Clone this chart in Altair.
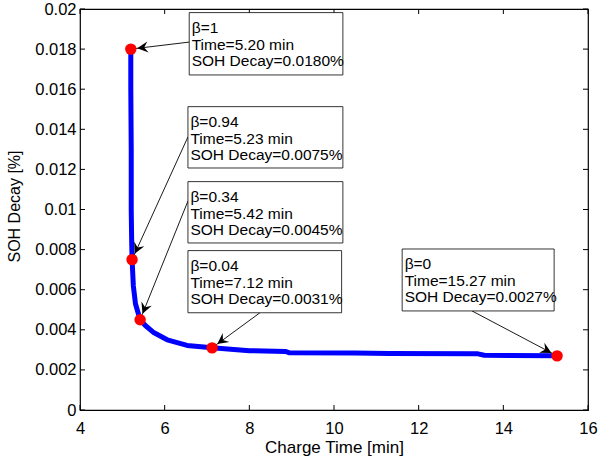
import math
import altair as alt
import pandas as pd

# Pareto curve: SOH decay against charge time
curve_time = [5.20, 5.20, 5.21, 5.21, 5.22, 5.23, 5.26, 5.31, 5.42, 5.55, 5.75, 6.06,
              6.53, 7.12, 8.00, 8.85, 8.95, 10.50, 11.30, 13.40, 13.55, 15.27]
curve_decay = [0.0180, 0.0160, 0.0130, 0.0100, 0.0085, 0.0075, 0.0062, 0.0053, 0.0045,
               0.00420, 0.00385, 0.00350, 0.00322, 0.0031, 0.00296, 0.00292, 0.00285,
               0.00284, 0.00282, 0.00280, 0.00273, 0.0027]

# highlighted operating points
beta = ["1", "0.94", "0.34", "0.04", "0"]
pt_time = [5.20, 5.23, 5.42, 7.12, 15.27]
pt_decay = [0.0180, 0.0075, 0.0045, 0.0031, 0.0027]

# annotation boxes and arrow tails, in data units
box_left = [6.58, 6.55, 6.55, 6.55, 11.61]
box_right = [10.21, 10.21, 10.21, 10.18, 15.20]
box_top = [0.01982, 0.01513, 0.01139, 0.00795, 0.00803]
box_bottom = [0.01671, 0.01207, 0.00833, 0.00485, 0.00494]
tail_time = [6.58, 6.55, 6.55, 8.25, 13.26]
tail_decay = [0.01835, 0.01362, 0.01042, 0.00485, 0.00494]

x_ticks = [4, 6, 8, 10, 12, 14, 16]
y_ticks = [0, 0.002, 0.004, 0.006, 0.008, 0.01, 0.012, 0.014, 0.016, 0.018, 0.02]

W, H = 508, 401
X_DOM, Y_DOM = [4, 16], [0, 0.02]
FONT = "Liberation Sans"


def to_px(t, d):
    return ((t - X_DOM[0]) / (X_DOM[1] - X_DOM[0]) * W,
            H - (d - Y_DOM[0]) / (Y_DOM[1] - Y_DOM[0]) * H)


angles = []
for tx, ty, hx, hy in zip(tail_time, tail_decay, pt_time, pt_decay):
    x0, y0 = to_px(tx, ty)
    x1, y1 = to_px(hx, hy)
    angles.append(math.degrees(math.atan2(y1 - y0, x1 - x0)) % 360)

curve_df = pd.DataFrame({"t": curve_time, "d": curve_decay, "i": range(len(curve_time))})
pts_df = pd.DataFrame({
    "t": pt_time, "d": pt_decay,
    "tt": tail_time, "td": tail_decay, "ang": angles,
    "bl": box_left, "br": box_right, "bt": box_top, "bb": box_bottom,
    "label": [f"β={b}\nTime={t:.2f} min\nSOH Decay={d:.4f}%"
              for b, t, d in zip(beta, pt_time, pt_decay)],
})
xt_df = pd.DataFrame({"v": x_ticks})
yt_df = pd.DataFrame({"v": y_ticks})

xs = alt.Scale(domain=X_DOM, nice=False, zero=False)
ys = alt.Scale(domain=Y_DOM, nice=False, zero=False)

x_axis = alt.Axis(values=x_ticks, format="d", title="Charge Time [min]", ticks=False,
                  grid=False, domain=False, labelFontSize=16.5, labelPadding=10,
                  labelFlush=False, labelColor="black", titleFontSize=17,
                  titlePadding=3, titleColor="black", titleFontWeight="normal")
y_axis = alt.Axis(values=y_ticks, format="~g", title="SOH Decay [%]", ticks=False,
                  grid=False, domain=False, labelFontSize=16.5, labelPadding=4,
                  labelFlush=False, labelColor="black", titleFontSize=16,
                  titleColor="black", titleFontWeight="normal",
                  titleX=-58, titleY=197)

line = alt.Chart(curve_df).mark_line(color="#0000ff", strokeWidth=5, strokeCap="round",
                                     strokeJoin="round").encode(
    x=alt.X("t:Q", scale=xs, axis=x_axis),
    y=alt.Y("d:Q", scale=ys, axis=y_axis),
    order="i:Q",
)

arrow_lines = alt.Chart(pts_df).mark_rule(color="black", strokeWidth=0.9).encode(
    x=alt.X("tt:Q", scale=xs), y=alt.Y("td:Q", scale=ys),
    x2="t:Q", y2="d:Q",
)

dots = alt.Chart(pts_df).mark_point(filled=True, color="#ff0000", size=130, opacity=1).encode(
    x=alt.X("t:Q", scale=xs), y=alt.Y("d:Q", scale=ys),
)

# concave arrowhead whose tip stops at the dot's rim
head_shape = "M-0.57,0 L-1.55,-0.5 L-1.2,0 L-1.55,0.5 Z"
heads = alt.Chart(pts_df).mark_point(filled=True, color="black", size=500, opacity=1,
                                     shape=head_shape).encode(
    x=alt.X("t:Q", scale=xs), y=alt.Y("d:Q", scale=ys),
    angle=alt.Angle("ang:Q", scale=None),
)

boxes = alt.Chart(pts_df).mark_rect(fill="white", stroke="black", strokeWidth=0.8).encode(
    x=alt.X("bl:Q", scale=xs), x2="br:Q",
    y=alt.Y("bt:Q", scale=ys), y2="bb:Q",
)

texts = alt.Chart(pts_df).mark_text(align="left", baseline="top", dx=2.5, dy=8.5,
                                    fontSize=15.5, lineHeight=16.5, lineBreak="\n",
                                    color="black", font=FONT).encode(
    x=alt.X("bl:Q", scale=xs), y=alt.Y("bt:Q", scale=ys),
    text="label:N",
)

# inward ticks on all four sides of the frame
TL = 5
tick_bottom = alt.Chart(xt_df).mark_rule(color="black", strokeWidth=1).encode(
    x=alt.X("v:Q", scale=xs), y=alt.value(H), y2=alt.value(H - TL))
tick_top = alt.Chart(xt_df).mark_rule(color="black", strokeWidth=1).encode(
    x=alt.X("v:Q", scale=xs), y=alt.value(0), y2=alt.value(TL))
tick_left = alt.Chart(yt_df).mark_rule(color="black", strokeWidth=1).encode(
    y=alt.Y("v:Q", scale=ys), x=alt.value(0), x2=alt.value(TL))
tick_right = alt.Chart(yt_df).mark_rule(color="black", strokeWidth=1).encode(
    y=alt.Y("v:Q", scale=ys), x=alt.value(W), x2=alt.value(W - TL))

chart = alt.layer(
    line, tick_bottom, tick_top, tick_left, tick_right,
    arrow_lines, dots, heads, boxes, texts,
).properties(
    width=W, height=H,
    autosize=alt.AutoSizeParams(type="none"),
    padding={"left": 80, "top": 9, "right": 10, "bottom": 49},
).configure(
    font=FONT, background="white",
).configure_view(
    stroke="black", strokeWidth=1.2,
)

chart.save("out.html", embed_options={"renderer": "svg", "actions": False})
